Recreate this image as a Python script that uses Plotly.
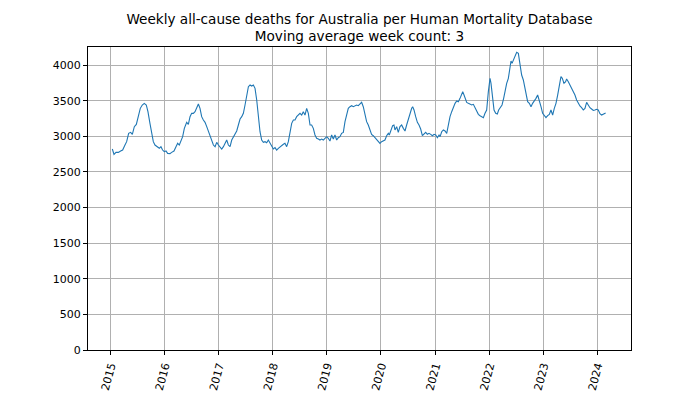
import pandas as pd
import plotly.graph_objects as go

# decimal-year positions of the readings and weekly deaths (3-week moving average)
years = [
    2015.034, 2015.065, 2015.102, 2015.145, 2015.188, 2015.225, 2015.268, 2015.299, 2015.336, 2015.373,
    2015.404, 2015.441, 2015.478, 2015.515, 2015.551, 2015.588, 2015.625, 2015.662, 2015.693, 2015.730,
    2015.761, 2015.792, 2015.823, 2015.866, 2015.903, 2015.933, 2015.964, 2015.995, 2016.026, 2016.057,
    2016.100, 2016.131, 2016.174, 2016.211, 2016.242, 2016.272, 2016.303, 2016.334, 2016.365,
    2016.377, 2016.408, 2016.439, 2016.470, 2016.500, 2016.531, 2016.562, 2016.593, 2016.624, 2016.654,
    2016.685, 2016.716, 2016.747, 2016.778, 2016.808, 2016.839, 2016.870, 2016.901, 2016.932, 2016.962,
    2016.993, 2017.024, 2017.055, 2017.086, 2017.117, 2017.147, 2017.178, 2017.209, 2017.240, 2017.271,
    2017.301, 2017.332, 2017.363, 2017.394, 2017.425, 2017.455, 2017.486, 2017.517, 2017.548, 2017.579,
    2017.609, 2017.640, 2017.671, 2017.702, 2017.733, 2017.763, 2017.794, 2017.825, 2017.856, 2017.887,
    2017.917,
    2017.948, 2017.979, 2018.010, 2018.041, 2018.071, 2018.102, 2018.133, 2018.164, 2018.195, 2018.225,
    2018.256, 2018.287, 2018.318, 2018.349, 2018.380, 2018.410, 2018.441, 2018.472, 2018.503, 2018.534,
    2018.564, 2018.595, 2018.626, 2018.657, 2018.688, 2018.718, 2018.749, 2018.780, 2018.811, 2018.842,
    2018.872, 2018.903, 2018.934, 2018.965, 2018.996, 2019.026, 2019.057, 2019.088, 2019.119, 2019.150,
    2019.181, 2019.211, 2019.242, 2019.273, 2019.304, 2019.335, 2019.365, 2019.396, 2019.427, 2019.458,
    2019.489,
    2019.519, 2019.550, 2019.581, 2019.612, 2019.643, 2019.673, 2019.704, 2019.735, 2019.766, 2019.797,
    2019.827, 2019.858, 2019.889, 2019.920, 2019.951, 2019.982, 2020.012, 2020.043, 2020.074, 2020.105,
    2020.136, 2020.154, 2020.185, 2020.216, 2020.240, 2020.259, 2020.290, 2020.320, 2020.351, 2020.382,
    2020.413, 2020.444, 2020.474, 2020.505, 2020.537, 2020.567, 2020.585, 2020.610, 2020.641, 2020.672,
    2020.702, 2020.733, 2020.764, 2020.795, 2020.826, 2020.856, 2020.887, 2020.918, 2020.949, 2020.980,
    2021.011, 2021.041, 2021.072,
    2021.091, 2021.121, 2021.152, 2021.183, 2021.214, 2021.245, 2021.275, 2021.306, 2021.337, 2021.368,
    2021.399, 2021.429, 2021.460, 2021.491, 2021.510, 2021.534, 2021.559, 2021.584, 2021.614, 2021.645,
    2021.676, 2021.707, 2021.738, 2021.768, 2021.799, 2021.830, 2021.861, 2021.892, 2021.922, 2021.953,
    2021.984, 2022.003, 2022.015, 2022.033, 2022.058, 2022.089, 2022.120, 2022.150, 2022.175, 2022.206,
    2022.237, 2022.267, 2022.298, 2022.323, 2022.354, 2022.385, 2022.403, 2022.422, 2022.446, 2022.477,
    2022.508, 2022.539, 2022.569, 2022.600, 2022.631, 2022.662,
    2022.711, 2022.742, 2022.773, 2022.803, 2022.834, 2022.865, 2022.896, 2022.927, 2022.958, 2022.988,
    2023.019, 2023.050, 2023.081, 2023.112, 2023.142, 2023.173, 2023.204, 2023.235, 2023.266, 2023.296,
    2023.327, 2023.352, 2023.383, 2023.413, 2023.432, 2023.463, 2023.494, 2023.524, 2023.555, 2023.586,
    2023.617, 2023.648, 2023.678, 2023.709, 2023.740, 2023.771, 2023.802, 2023.832, 2023.863, 2023.894,
    2023.925, 2023.956, 2023.986, 2024.017, 2024.048, 2024.079, 2024.110, 2024.140, 2024.153,
]
deaths = [
    2821, 2746, 2774, 2774, 2793, 2807, 2877, 2924, 3041, 3055,
    3027, 3135, 3167, 3298, 3392, 3439, 3462, 3439, 3345, 3181,
    3041, 2924, 2877, 2854, 2831, 2854, 2807, 2784, 2793, 2760,
    2756, 2774, 2793, 2854, 2901, 2877, 2924, 2994, 3111,
    3135, 3195, 3167, 3275, 3322, 3322, 3345, 3392, 3453, 3392,
    3275, 3228, 3195, 3135, 3074, 3018, 2947, 2877, 2854, 2915,
    2877, 2854, 2821, 2854, 2901, 2947, 2877, 2854, 2947, 2994,
    3018, 3074, 3158, 3242, 3275, 3322, 3439, 3588, 3696, 3719,
    3705, 3719, 3673, 3509, 3252, 3064, 2947, 2915, 2924, 2910,
    2947,
    2901, 2877, 2821, 2840, 2807, 2831, 2854, 2877, 2887, 2901,
    2854, 2924, 3064, 3181, 3228, 3228, 3275, 3298, 3322, 3298,
    3345, 3298, 3392, 3322, 3158, 3158, 3111, 3018, 2971, 2961,
    2947, 2961, 2947, 2971, 2994, 2971, 2933, 3018, 2961, 3018,
    2947, 2980, 2994, 3041, 3055, 3205, 3298, 3392, 3415, 3429,
    3415,
    3429, 3439, 3429, 3457, 3476, 3415, 3298, 3205, 3158, 3074,
    3027, 3008, 2980, 2961, 2933, 2901, 2924, 2933, 2947, 3008,
    3041, 3018, 3074, 3149, 3158, 3088, 3135, 3055, 3135, 3158,
    3111, 3074, 3158, 3242, 3322, 3392, 3415, 3369, 3275, 3195,
    3158, 3102, 3008, 3027, 3055, 3027, 3041, 3027, 3008, 3027,
    3018, 2980, 3018,
    2994, 3064, 3088, 3074, 3041, 3181, 3275, 3345, 3415, 3462,
    3495, 3485, 3532, 3588, 3626, 3579, 3509, 3476, 3462, 3448,
    3439, 3448, 3401, 3345, 3308, 3289, 3275, 3261, 3322, 3369,
    3626, 3766, 3813, 3743, 3532, 3369, 3322, 3312, 3369, 3415,
    3439, 3532, 3673, 3743, 3813, 3977, 4056, 4023, 4070, 4140,
    4178, 4164, 4023, 3860, 3790, 3673,
    3485, 3462, 3415, 3462, 3495, 3532, 3579, 3509, 3415, 3322,
    3289, 3261, 3289, 3308, 3369, 3298, 3392, 3462, 3579, 3719,
    3836, 3813, 3743, 3766, 3804, 3766, 3719, 3682, 3626, 3579,
    3509, 3462, 3425, 3401, 3369, 3392, 3476, 3439, 3401, 3383,
    3364, 3369, 3378, 3369, 3317, 3298, 3312, 3322, 3326,
]

y_ticks = [0, 500, 1000, 1500, 2000, 2500, 3000, 3500, 4000]
title_lines = ["Weekly all-cause deaths for Australia per Human Mortality Database",
               "Moving average week count: 3"]


def to_date(y):
    base = int(y)
    start = pd.Timestamp(f"{base}-01-01")
    end = pd.Timestamp(f"{base + 1}-01-01")
    return start + (end - start) * (y - base)


dates = [to_date(y) for y in years]

fig = go.Figure()
fig.add_trace(go.Scatter(x=dates, y=deaths, mode="lines",
                         line=dict(color="#1f77b4", width=1.1),
                         showlegend=False, hoverinfo="x+y"))

font_family = "DejaVu Sans, Liberation Sans, sans-serif"
fig.update_layout(
    width=700, height=394,
    margin=dict(l=80, r=77, t=39, b=52),
    paper_bgcolor="white", plot_bgcolor="white",
    font=dict(family=font_family, color="black", size=11),
    title=dict(text="<br>".join(title_lines), x=0.5, xref="paper",
               y=0.96, yref="container", yanchor="top",
               font=dict(family=font_family, size=13.6, color="black")),
)
fig.update_xaxes(
    type="date", automargin=False,
    range=[to_date(2014.584), to_date(2024.621)],
    tick0="2015-01-01", dtick="M12", tickformat="%Y", tickangle=-75,
    showgrid=True, gridcolor="#b0b0b0", gridwidth=0.8,
    showline=True, linecolor="black", linewidth=1, mirror=True,
    ticks="outside", ticklen=4, tickcolor="black", zeroline=False,
    tickfont=dict(size=11, color="black"),
)
fig.update_yaxes(
    automargin=False,
    range=[0, 4253],
    tickvals=y_ticks, ticktext=[str(v) for v in y_ticks],
    showgrid=True, gridcolor="#b0b0b0", gridwidth=0.8,
    showline=True, linecolor="black", linewidth=1, mirror=True,
    ticks="outside", ticklen=4, tickcolor="black", zeroline=False,
    tickfont=dict(size=11, color="black"),
)

fig.write_html("out.html")
